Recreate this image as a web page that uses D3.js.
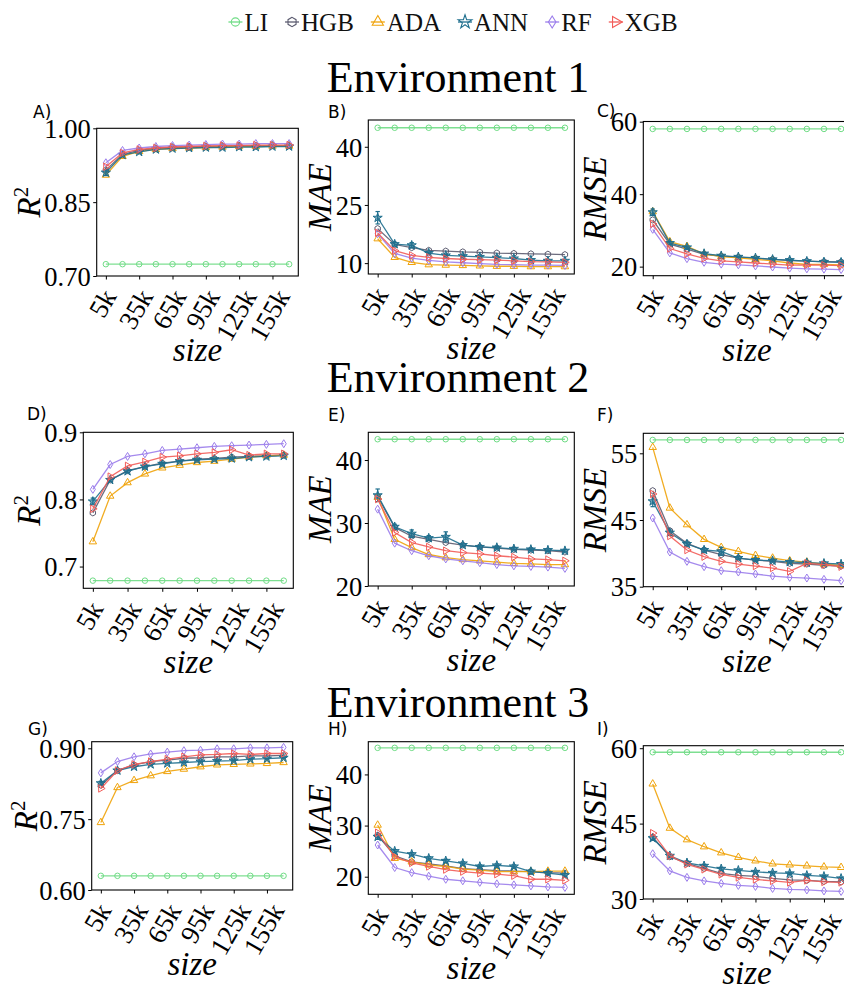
<!DOCTYPE html>
<html><head><meta charset="utf-8">
<script src="https://cdn.jsdelivr.net/npm/d3@7"></script>
<style>body{margin:0;background:#fff;overflow:hidden}svg{display:block}</style>
</head><body><svg id="chart" width="844" height="987"></svg>
<script>
// ---------------- DATA ----------------
const sizes = [5,20,35,50,65,80,95,110,125,140,155,170]; // thousands
const xTickValues = [5,35,65,95,125,155];
const xTickLabels = ["5k","35k","65k","95k","125k","155k"];
const models = ["LI","HGB","ADA","ANN","RF","XGB"];
const envTitles = ["Environment 1","Environment 2","Environment 3"];
const panelLetters = ["A)","B)","C)","D)","E)","F)","G)","H)","I)"];

// Environment 1 - R2
const e1R2_LI  = [0.724,0.724,0.724,0.724,0.724,0.724,0.724,0.724,0.724,0.724,0.724,0.724];
const e1R2_HGB = [0.915,0.947,0.955,0.959,0.961,0.962,0.963,0.963,0.964,0.964,0.965,0.965];
const e1R2_ADA = [0.905,0.943,0.953,0.957,0.959,0.960,0.961,0.962,0.963,0.963,0.964,0.964];
const e1R2_ANN = [0.910,0.946,0.952,0.957,0.959,0.960,0.961,0.961,0.962,0.962,0.963,0.963];
const e1R2_RF  = [0.930,0.955,0.960,0.963,0.965,0.966,0.967,0.968,0.968,0.969,0.969,0.969];
const e1R2_XGB = [0.922,0.950,0.957,0.960,0.962,0.963,0.964,0.965,0.965,0.966,0.966,0.966];
const e1R2_ANNerr = [0.006,0.002,0.002,0.001,0.001,0.001,0.001,0.001,0.001,0.001,0.001,0.001];
// Environment 1 - MAE
const e1MAE_LI  = [44.9,44.9,44.9,44.9,44.9,44.9,44.9,44.9,44.9,44.9,44.9,44.9];
const e1MAE_HGB = [18.9,14.8,14.0,13.3,13.1,12.9,12.8,12.6,12.5,12.4,12.3,12.2];
const e1MAE_ADA = [16.3,11.5,10.2,9.6,9.5,9.4,9.3,9.2,9.2,9.1,9.1,9.1];
const e1MAE_ANN = [21.7,14.9,14.6,12.6,12.0,11.8,11.6,11.4,11.2,10.8,10.6,10.6];
const e1MAE_RF  = [17.6,12.5,11.3,10.7,10.3,10.1,9.9,9.7,9.6,9.5,9.5,9.4];
const e1MAE_XGB = [17.8,13.2,12.0,11.5,11.2,11.0,10.9,10.8,10.6,10.4,10.3,10.2];
const e1MAE_ANNerr = [1.6,0.5,0.7,0.3,0.2,0.2,0.2,0.2,0.2,0.2,0.2,0.2];
// Environment 1 - RMSE
const e1RMSE_LI  = [58.0,58.0,58.0,58.0,58.0,58.0,58.0,58.0,58.0,58.0,58.0,58.0];
const e1RMSE_HGB = [32.9,26.2,24.8,23.4,22.9,22.6,22.3,22.0,21.7,21.5,21.4,21.3];
const e1RMSE_ADA = [35.2,26.9,25.6,23.5,22.8,22.4,22.0,21.6,21.0,20.6,20.6,20.5];
const e1RMSE_ANN = [35.0,26.5,25.3,23.6,23.0,22.7,22.4,22.0,21.8,21.5,21.3,21.2];
const e1RMSE_RF  = [30.3,23.8,22.2,21.2,20.7,20.5,20.2,19.9,19.6,19.4,19.3,19.2];
const e1RMSE_XGB = [31.8,25.0,23.5,22.3,21.6,21.3,21.0,20.7,20.4,20.5,20.4,20.3];
const e1RMSE_ANNerr = [0.9,0.4,0.4,0.3,0.2,0.2,0.2,0.2,0.2,0.2,0.2,0.2];

// Environment 2 - R2
const e2R2_LI  = [0.679,0.679,0.679,0.679,0.679,0.679,0.679,0.679,0.679,0.679,0.679,0.679];
const e2R2_HGB = [0.780,0.829,0.843,0.849,0.854,0.857,0.860,0.861,0.863,0.864,0.865,0.866];
const e2R2_ADA = [0.737,0.805,0.825,0.838,0.847,0.851,0.855,0.857,0.860,0.863,0.865,0.866];
const e2R2_ANN = [0.797,0.829,0.842,0.849,0.853,0.857,0.859,0.860,0.861,0.863,0.864,0.865];
const e2R2_RF  = [0.815,0.852,0.864,0.868,0.873,0.875,0.877,0.879,0.880,0.881,0.882,0.883];
const e2R2_XGB = [0.786,0.834,0.850,0.856,0.863,0.865,0.868,0.870,0.874,0.866,0.868,0.868];
const e2R2_ANNerr = [0.005,0.002,0.002,0.002,0.002,0.001,0.001,0.001,0.001,0.001,0.001,0.001];
// Environment 2 - MAE
const e2MAE_LI  = [43.3,43.3,43.3,43.3,43.3,43.3,43.3,43.3,43.3,43.3,43.3,43.3];
const e2MAE_HGB = [34.2,29.3,27.9,27.4,26.9,26.5,26.2,26.0,25.8,25.7,25.6,25.4];
const e2MAE_ADA = [34.1,27.4,26.1,25.0,24.5,24.2,24.0,23.8,23.6,23.5,23.4,23.4];
const e2MAE_ANN = [34.4,29.4,28.3,27.6,27.8,26.5,26.2,26.1,25.9,25.8,25.7,25.6];
const e2MAE_RF  = [32.2,26.8,25.6,24.8,24.3,24.0,23.7,23.4,23.2,23.1,23.0,22.8];
const e2MAE_XGB = [33.8,28.5,26.9,26.2,25.6,25.3,25.1,24.8,24.6,24.3,24.2,24.0];
const e2MAE_ANNerr = [1.0,0.4,0.6,0.4,0.8,0.2,0.2,0.2,0.2,0.2,0.2,0.2];
// Environment 2 - RMSE
const e2RMSE_LI  = [57.0,57.0,57.0,57.0,57.0,57.0,57.0,57.0,57.0,57.0,57.0,57.0];
const e2RMSE_HGB = [49.4,43.4,41.5,40.5,39.8,39.3,39.0,38.8,38.5,38.4,38.2,38.1];
const e2RMSE_ADA = [55.9,46.8,44.3,42.1,40.9,40.3,39.7,39.3,38.9,38.7,38.4,38.2];
const e2RMSE_ANN = [47.8,43.1,41.4,40.5,40.3,39.3,39.0,38.9,38.7,38.6,38.5,38.4];
const e2RMSE_RF  = [45.3,40.2,38.8,38.0,37.4,37.2,36.9,36.6,36.4,36.3,36.1,35.9];
const e2RMSE_XGB = [48.9,42.6,40.5,39.5,38.8,38.4,38.1,37.8,37.3,38.5,38.3,38.0];
const e2RMSE_ANNerr = [0.8,0.4,0.3,0.3,0.6,0.2,0.2,0.2,0.2,0.2,0.2,0.2];

// Environment 3 - R2
const e3R2_LI  = [0.630,0.630,0.630,0.630,0.630,0.630,0.630,0.630,0.630,0.630,0.630,0.630];
const e3R2_HGB = [0.822,0.853,0.865,0.872,0.875,0.879,0.880,0.882,0.882,0.884,0.884,0.885];
const e3R2_ADA = [0.743,0.817,0.832,0.842,0.851,0.856,0.861,0.865,0.866,0.867,0.868,0.870];
const e3R2_ANN = [0.826,0.853,0.861,0.866,0.868,0.870,0.872,0.873,0.874,0.877,0.878,0.880];
const e3R2_RF  = [0.848,0.872,0.882,0.888,0.892,0.895,0.896,0.899,0.899,0.901,0.901,0.902];
const e3R2_XGB = [0.815,0.853,0.866,0.872,0.877,0.882,0.886,0.887,0.889,0.887,0.889,0.889];
const e3R2_ANNerr = [0.004,0.002,0.002,0.002,0.001,0.001,0.001,0.001,0.001,0.001,0.001,0.001];
// Environment 3 - MAE
const e3MAE_LI  = [45.2,45.2,45.2,45.2,45.2,45.2,45.2,45.2,45.2,45.2,45.2,45.2];
const e3MAE_HGB = [28.1,24.1,22.9,22.5,22.1,21.6,21.4,21.2,21.1,21.0,20.8,20.7];
const e3MAE_ADA = [30.1,23.6,22.9,22.3,22.0,21.5,21.3,21.0,21.0,21.0,21.1,21.1];
const e3MAE_ANN = [27.8,25.0,24.4,23.6,23.1,22.6,22.0,22.2,22.0,21.0,20.7,20.3];
const e3MAE_RF  = [26.2,21.8,20.8,20.1,19.5,19.2,18.9,18.6,18.4,18.2,18.0,17.9];
const e3MAE_XGB = [28.6,23.9,22.7,22.0,21.4,21.0,20.7,20.5,20.2,19.5,19.5,19.3];
const e3MAE_ANNerr = [0.5,0.3,0.3,0.3,0.3,0.3,0.3,0.3,0.3,0.4,0.3,0.3];
// Environment 3 - RMSE
const e3RMSE_LI  = [59.2,59.2,59.2,59.2,59.2,59.2,59.2,59.2,59.2,59.2,59.2,59.2];
const e3RMSE_HGB = [42.3,38.4,37.1,36.1,35.1,34.7,34.5,34.1,33.8,33.7,33.5,33.4];
const e3RMSE_ADA = [52.9,44.1,41.8,40.4,39.2,38.3,37.6,37.0,36.8,36.6,36.4,36.3];
const e3RMSE_ANN = [42.1,38.6,37.2,36.6,36.0,35.7,35.4,35.2,35.1,34.7,34.5,34.1];
const e3RMSE_RF  = [39.0,35.6,34.3,33.6,33.1,32.7,32.5,32.1,31.9,31.8,31.6,31.5];
const e3RMSE_XGB = [43.1,38.6,36.9,35.9,34.9,34.3,33.9,33.6,33.3,33.7,33.4,33.3];
const e3RMSE_ANNerr = [0.4,0.3,0.3,0.3,0.3,0.2,0.2,0.2,0.2,0.2,0.2,0.2];

// y tick labels per panel
const yTicksA = [0.70,0.85,1.00], yTicksB = [10,25,40], yTicksC = [20,40,60];
const yTicksD = [0.7,0.8,0.9],   yTicksE = [20,30,40], yTicksF = [35,45,55];
const yTicksG = [0.60,0.75,0.90], yTicksH = [20,30,40], yTicksI = [30,45,60];

// ---------------- PANEL TABLE (built from arrays) ----------------
const panels = [
 {metric:"R2",  s:[e1R2_LI,e1R2_HGB,e1R2_ADA,e1R2_ANN,e1R2_RF,e1R2_XGB], err:e1R2_ANNerr, ticks:yTicksA, fmt:".2f"},
 {metric:"MAE", s:[e1MAE_LI,e1MAE_HGB,e1MAE_ADA,e1MAE_ANN,e1MAE_RF,e1MAE_XGB], err:e1MAE_ANNerr, ticks:yTicksB, fmt:"d"},
 {metric:"RMSE",s:[e1RMSE_LI,e1RMSE_HGB,e1RMSE_ADA,e1RMSE_ANN,e1RMSE_RF,e1RMSE_XGB], err:e1RMSE_ANNerr, ticks:yTicksC, fmt:"d"},
 {metric:"R2",  s:[e2R2_LI,e2R2_HGB,e2R2_ADA,e2R2_ANN,e2R2_RF,e2R2_XGB], err:e2R2_ANNerr, ticks:yTicksD, fmt:".1f"},
 {metric:"MAE", s:[e2MAE_LI,e2MAE_HGB,e2MAE_ADA,e2MAE_ANN,e2MAE_RF,e2MAE_XGB], err:e2MAE_ANNerr, ticks:yTicksE, fmt:"d"},
 {metric:"RMSE",s:[e2RMSE_LI,e2RMSE_HGB,e2RMSE_ADA,e2RMSE_ANN,e2RMSE_RF,e2RMSE_XGB], err:e2RMSE_ANNerr, ticks:yTicksF, fmt:"d"},
 {metric:"R2",  s:[e3R2_LI,e3R2_HGB,e3R2_ADA,e3R2_ANN,e3R2_RF,e3R2_XGB], err:e3R2_ANNerr, ticks:yTicksG, fmt:".2f"},
 {metric:"MAE", s:[e3MAE_LI,e3MAE_HGB,e3MAE_ADA,e3MAE_ANN,e3MAE_RF,e3MAE_XGB], err:e3MAE_ANNerr, ticks:yTicksH, fmt:"d"},
 {metric:"RMSE",s:[e3RMSE_LI,e3RMSE_HGB,e3RMSE_ADA,e3RMSE_ANN,e3RMSE_RF,e3RMSE_XGB], err:e3RMSE_ANNerr, ticks:yTicksI, fmt:"d"}
];

// ---------------- LAYOUT / STYLE ----------------
const frames = [
 {l:96.7, r:298.3, t:128.3, b:276.0, y0:0.70,  y1:1.00,  lx:33,  ly:118},
 {l:368.3,r:574.3, t:120.0, b:274.0, y0:7.2,   y1:46.9,  lx:328, ly:118},
 {l:643.3,r:850.5, t:121.5, b:275.7, y0:17.5,  y1:60.05, lx:597, ly:117},
 {l:83.3, r:293.3, t:432.3, b:588.3, y0:0.6676,y1:0.90,  lx:27,  ly:420},
 {l:368.3,r:574.3, t:432.3, b:586.0, y0:20.0,  y1:44.4,  lx:328, ly:421},
 {l:643.3,r:850.5, t:433.3, b:586.7, y0:35.0,  y1:58.0,  lx:597, ly:421},
 {l:91.7, r:292.7, t:741.7, b:890.0, y0:0.60,  y1:0.914, lx:28,  ly:735},
 {l:368.3,r:574.3, t:741.7, b:894.3, y0:16.56, y1:46.4,  lx:328, ly:735},
 {l:643.3,r:850.5, t:745.7, b:899.0, y0:30.0,  y1:60.5,  lx:597, ly:735}
];
const titleY = [91.7, 392, 716.5];
const titleX = 458;
const colors = {LI:"#6fdc85", HGB:"#5c5c70", ADA:"#f0a30a", ANN:"#1f6f8e", RF:"#9b7deb", XGB:"#f25c58"};
const SERIF = "'Liberation Serif','Times New Roman',serif";

function hexPath(r){const p=[];for(let k=0;k<6;k++){const a=Math.PI/2+k*Math.PI/3;p.push([r*Math.cos(a),-r*Math.sin(a)]);}return "M"+p.map(q=>q.join(",")).join("L")+"Z";}
function thinDiamond(w,h){return `M0,${-h}L${w},0L0,${h}L${-w},0Z`;}
function markerPath(m, k){
  switch(m){
    case "LI":  return d3.symbol(d3.symbolCircle, 24*k*k)();
    case "HGB": return hexPath(3.1*k);
    case "ADA": return d3.symbol(d3.symbolTriangle, 24*k*k)();
    case "ANN": return d3.symbol(d3.symbolStar, 26*k*k)();
    case "RF":  return thinDiamond(2.5*k, 4.0*k);
    case "XGB": return d3.symbol(d3.symbolTriangle, 24*k*k)();
  }
}
function markerRot(m){ return m==="XGB" ? " rotate(90)" : ""; }

const svg = d3.select("#chart");

// ---------------- LEGEND ----------------
const leg = svg.append("g");
let cx = 0;
models.forEach(m=>{
  const g = leg.append("g").attr("transform",`translate(${cx},0)`);
  g.append("line").attr("x1",-7).attr("x2",7).attr("y1",0).attr("y2",0)
    .attr("stroke",colors[m]).attr("stroke-width",1.3);
  g.append("path").attr("d",markerPath(m,1.5)).attr("transform","translate(0,0)"+markerRot(m))
    .attr("fill","none").attr("stroke",colors[m]).attr("stroke-width",1.1);
  const t = g.append("text").attr("x",9).attr("y",9).text(m)
    .attr("font-family",SERIF).attr("font-size",25).attr("fill","#111");
  cx += 9 + t.node().getComputedTextLength() + 24;
});
const legW = cx - 24 + 7;
leg.attr("transform",`translate(${453 - legW/2 + 7},22)`);

// ---------------- TITLES ----------------
envTitles.forEach((t,i)=>{
  svg.append("text").attr("x",titleX).attr("y",titleY[i]).attr("text-anchor","middle")
    .attr("font-family",SERIF).attr("font-size",44).attr("fill","#000").text(t);
});

// ---------------- PANELS ----------------
panels.forEach((p,i)=>{
  const f = frames[i];
  const g = svg.append("g");
  const span = sizes[sizes.length-1]-sizes[0];
  const x = d3.scaleLinear().domain([sizes[0]-0.05*span, sizes[sizes.length-1]+0.05*span]).range([f.l,f.r]);
  const y = d3.scaleLinear().domain([f.y0,f.y1]).range([f.b,f.t]);

  // y axis
  const yAx = g.append("g").attr("transform",`translate(${f.l},0)`)
    .call(d3.axisLeft(y).tickValues(p.ticks).tickSize(3.5).tickPadding(2.5).tickFormat(d3.format(p.fmt)));
  yAx.select(".domain").remove();
  yAx.selectAll("line").attr("stroke","#000").attr("stroke-width",1);
  yAx.selectAll("text").attr("font-family",SERIF).attr("font-size",26.5).attr("fill","#000").attr("dy","0.35em");

  // x axis ticks
  const xAx = g.append("g").attr("transform",`translate(0,${f.b})`)
    .call(d3.axisBottom(x).tickValues(xTickValues).tickSize(3.5).tickFormat(""));
  xAx.select(".domain").remove();
  xAx.selectAll("line").attr("stroke","#000").attr("stroke-width",1);
  xTickValues.forEach((v,j)=>{
    const t = g.append("text").text(xTickLabels[j]).attr("font-family",SERIF).attr("font-size",27)
      .attr("text-anchor","middle").attr("dy","0.33em").attr("fill","#000");
    const L = t.node().getComputedTextLength();
    const hgt = 19;
    const H = L*Math.sin(Math.PI/3) + hgt*0.5;
    t.attr("transform",`translate(${x(v)-3},${f.b+11+H/2}) rotate(-60)`);
  });

  // series
  models.forEach((m,k)=>{
    const vals = p.s[k];
    const pts = sizes.map((sz,j)=>[x(sz),y(vals[j])]);
    g.append("path").attr("d",d3.line()(pts)).attr("fill","none")
      .attr("stroke",colors[m]).attr("stroke-width",1.3).attr("stroke-opacity",0.9);
    if(m==="ANN"){
      sizes.forEach((sz,j)=>{
        const e = p.err[j], xx = x(sz);
        const ya = y(vals[j]-e), yb = y(vals[j]+e);
        g.append("line").attr("x1",xx).attr("x2",xx).attr("y1",ya).attr("y2",yb).attr("stroke",colors[m]).attr("stroke-width",1.2);
        [ya,yb].forEach(yy=>g.append("line").attr("x1",xx-2.2).attr("x2",xx+2.2).attr("y1",yy).attr("y2",yy).attr("stroke",colors[m]).attr("stroke-width",1.2));
      });
    }
    g.selectAll(null).data(pts).join("path")
      .attr("d",markerPath(m,1))
      .attr("transform",d=>`translate(${d[0]},${d[1]})`+markerRot(m))
      .attr("fill", m==="ANN" ? colors[m] : "none")
      .attr("fill-opacity", m==="ANN" ? 0.6 : 0)
      .attr("stroke",colors[m]).attr("stroke-width",1);
  });

  // frame
  g.append("rect").attr("x",f.l).attr("y",f.t).attr("width",f.r-f.l).attr("height",f.b-f.t)
    .attr("fill","none").attr("stroke","#000").attr("stroke-width",1.1);

  // y label
  let minX = Infinity;
  yAx.selectAll("text").each(function(){const bb=this.getBBox(); minX=Math.min(minX, f.l+bb.x);});
  const lx = Math.max(minX-16, 25);
  const ly = g.append("text").attr("text-anchor","middle")
    .attr("transform",`translate(${lx},${(f.t+f.b)/2}) rotate(-90)`)
    .attr("dy","0.35em").attr("font-family",SERIF).attr("font-size",33).attr("fill","#000");
  if(p.metric==="R2"){
    ly.append("tspan").attr("font-style","italic").text("R");
    ly.append("tspan").attr("font-size",21).attr("dy","-0.55em").text("2");
  } else {
    ly.attr("font-style","italic").text(p.metric);
  }

  // x label
  g.append("text").attr("x",(f.l+f.r)/2).attr("y",f.b+85).attr("text-anchor","middle")
    .attr("font-family",SERIF).attr("font-style","italic").attr("font-size",33).attr("fill","#000").text("size");

  // panel letter
  g.append("text").attr("x",f.lx).attr("y",f.ly).text(panelLetters[i])
    .attr("font-family","'DejaVu Sans',sans-serif").attr("font-size",17).attr("fill","#000");
});
</script>
</body></html>
